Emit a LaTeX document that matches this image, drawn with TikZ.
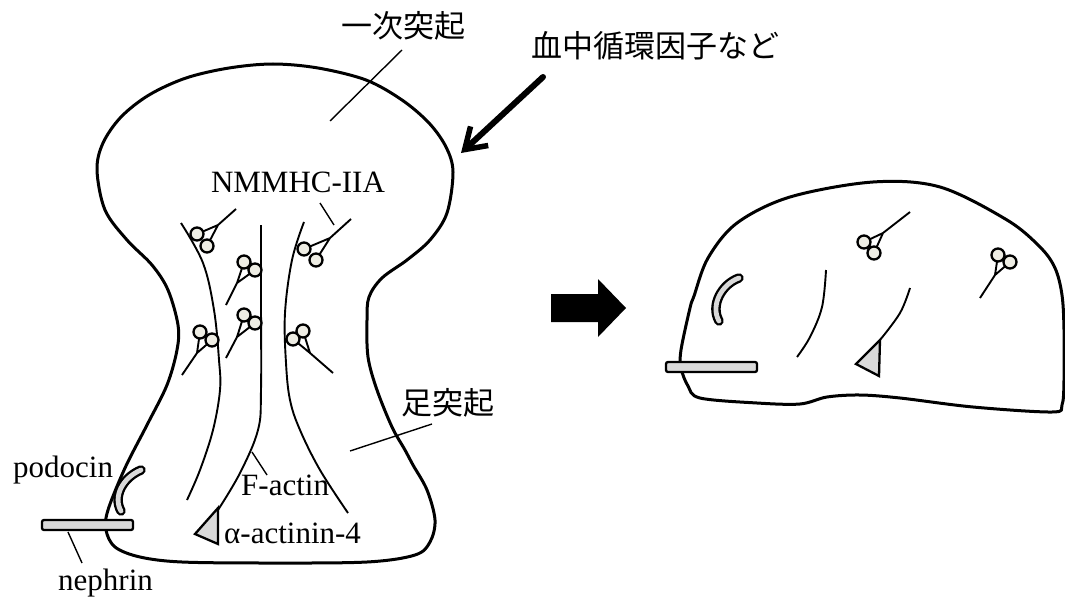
\documentclass[tikz,border=0pt]{standalone}
\usepackage{fontspec}
\setmainfont{Liberation Serif}
\newfontfamily\jpfont{Noto Sans CJK JP}
\usetikzlibrary{arrows.meta}
\definecolor{headfill}{HTML}{EEEDE4}
\definecolor{protfill}{HTML}{D9D9D9}
\tikzset{
  membrane/.style={line width=3pt, line join=round},
  actin/.style={line width=1.9pt},
  leader/.style={line width=1.4pt},
  lbl/.style={inner sep=0pt, font=\fontsize{31pt}{37pt}\selectfont},
  jplbl/.style={inner sep=0pt, font=\fontsize{31pt}{37pt}\selectfont\jpfont},
  myohead/.style={draw, line width=2.3pt, fill=headfill},
  nephrinbar/.style={draw, line width=2.3pt, fill=protfill, rounded corners=2pt},
  actinin/.style={draw, line width=2.3pt, fill=protfill, line join=miter},
}
% myosin: stalk end, branch point, two heads
\newcommand\myo[4]{%
  \draw[line width=1.9pt] (#1) -- (#2) -- (#3) (#2) -- (#4);
  \draw[myohead] (#3) circle[radius=6.5pt] (#4) circle[radius=6.5pt];}
% podocin: curved band with rounded ends
\newcommand\podo[1]{%
  \draw[line width=9.5pt, line cap=round] #1;
  \draw[line width=4.8pt, line cap=round, protfill] #1;}
\begin{document}
\begin{tikzpicture}[x=1pt, y=-1pt]
\useasboundingbox (0,0) rectangle (1065,607);

% ---------- cell with primary process and foot process ----------
\draw[membrane] plot[smooth cycle, tension=0.55] coordinates {
  (273,64) (318,68) (366,80) (402,100) (429,123) (446,147) (453,172)
  (447,213) (430,240) (407,260) (382,278) (369,297) (367,320) (368,357)
  (377,390) (392,427) (405,450) (413,465) (427,490) (435,520) (430,542)
  (415,555) (367,562) (270,563) (182,562) (140,557) (115,547) (106,530)
  (108,510) (125,468) (147,425) (167,385) (177,350) (178,325) (168,290)
  (152,265) (127,240) (105,210) (97,170) (103,143) (121,117) (149,95)
  (186,78) (229,68)};

% F-actin bundles
\draw[actin] plot[smooth, tension=0.6] coordinates {
  (181,223) (203,263) (214,310) (219,360) (220,390) (213,430) (200,470) (187,500)};
\draw[actin] plot[smooth, tension=0.6] coordinates {
  (261,225) (261,300) (261,390) (258,430) (240,473) (218,510)};
\draw[actin] plot[smooth, tension=0.6] coordinates {
  (304,222) (292,260) (285,313) (286,363) (290,400) (300,430) (320,470) (348,513)};

% non-muscle myosin
\myo{236,209}{218,225}{197,234}{207,246}
\myo{351,219}{330,238}{304,249}{316,260}
\myo{226,305}{237,283}{244,262}{255,270}
\myo{226,358}{237,337}{244,315}{255,323}
\myo{182,375}{197,353}{200,332}{212,340}
\myo{333,373}{310,353}{293,339}{303,331}

% slit diaphragm proteins and alpha-actinin-4
\podo{(141,470) .. controls (122,478) and (113,497) .. (121,511)}
\draw[nephrinbar] (42,520) rectangle (133,530);
\draw[actinin] (218,508) -- (218,544) -- (195,534) -- cycle;

% labels
\node[jplbl, anchor=base west] (primary) at (341,38) {一次突起};
\node[jplbl, anchor=base west] (factor) at (531,58) {血中循環因子など};
\node[lbl, anchor=base] (myosin) at (298,192) {NMMHC-IIA};
\node[lbl, anchor=base west] (podocin) at (13,477) {podocin};
\node[lbl, anchor=base west] (nephrin) at (58,590) {nephrin};
\node[lbl, anchor=base west] (factin) at (241,495) {F-actin};
\node[lbl, anchor=base west] (actn) at (224,543) {α-actinin-4};
\node[jplbl, anchor=base west] (foot) at (401,414) {足突起};

% leader lines
\coordinate (pA) at (402,50);  \coordinate (pB) at (330,121);
\coordinate (mA) at (320,203); \coordinate (mB) at (334,225);
\coordinate (fA) at (252,452); \coordinate (fB) at (267,475);
\coordinate (tA) at (432,424); \coordinate (tB) at (350,451);
\coordinate (nA) at (68,532);  \coordinate (nB) at (82,563);
\draw[leader] (pA) -- (pB);
\draw[leader] (mA) -- (mB);
\draw[leader] (fA) -- (fB);
\draw[leader] (tA) -- (tB);
\draw[leader] (nA) -- (nB);

% circulating factor acting on the cell
\coordinate (arrS) at (543,77);
\coordinate (arrE) at (461,153);
\draw[line width=6pt, line cap=round,
  -{Straight Barb[length=20pt, width=26pt, line width=5.5pt]}] (arrS) -- (arrE);

% ---------- transition arrow ----------
\fill (551,294) -- (598,294) -- (598,279) -- (626,308) -- (598,337)
  -- (598,322) -- (551,322) -- cycle;

% ---------- effaced foot process ----------
\draw[membrane] plot[smooth cycle, tension=0.55] coordinates {
  (873,182) (940,187) (1007,220) (1040,247) (1055,268) (1062,295)
  (1064,330) (1064,380) (1062,405) (1052,412) (973,407) (900,398)
  (860,395) (827,397) (800,404) (757,403) (700,398) (688,386) (681,368)
  (681,350) (690,308) (694,296) (708,258) (737,223) (790,197)};

\draw[actin] plot[smooth, tension=0.6] coordinates {
  (826,270) (822,307) (810,337) (797,357)};
\draw[actin] plot[smooth, tension=0.6] coordinates {
  (910,288) (900,313) (880,340)};

\myo{910,212}{883,233}{864,242}{874,253}
\myo{980,298}{995,275}{998,255}{1010,262}

\podo{(739,278) .. controls (722,284) and (710,305) .. (719,321)}
\draw[nephrinbar] (666,362) rectangle (757,372);
\draw[actinin] (880,340) -- (879,376) -- (856,364) -- cycle;
\end{tikzpicture}
\end{document}
